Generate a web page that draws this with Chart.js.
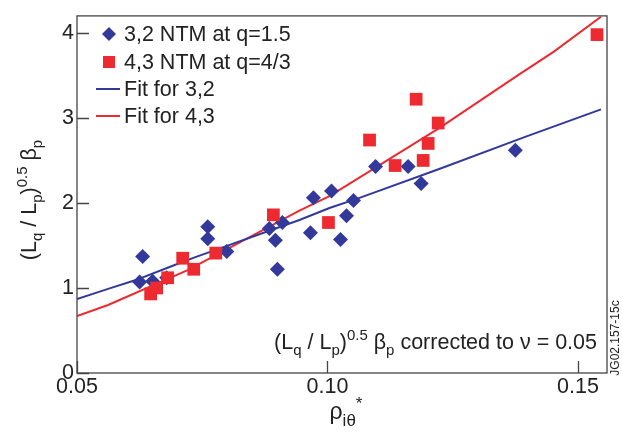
<!DOCTYPE html>
<html>
<head>
<meta charset="utf-8">
<script src="https://cdn.jsdelivr.net/npm/chart.js@4.4.0/dist/chart.umd.min.js"></script>
<style>
  html, body { margin: 0; padding: 0; background: #fff; }
  #wrap { width: 622px; height: 437px; }
</style>
</head>
<body>
<div id="wrap"><canvas id="chart" width="622" height="437"></canvas></div>
<script>
// 3,2 NTM points (rho*, corrected beta)
const ntm32X = [0.0625, 0.0631, 0.0651, 0.0679, 0.0761, 0.0761, 0.0799, 0.0884, 0.0896, 0.0900, 0.0910,
                0.0966, 0.0972, 0.1008, 0.1026, 0.1038, 0.1052, 0.1096, 0.1161, 0.1187, 0.1375];
const ntm32Y = [1.07, 1.37, 1.08, 1.12, 1.72, 1.58, 1.43, 1.70, 1.56, 1.22, 1.77,
                1.65, 2.06, 2.14, 1.57, 1.85, 2.03, 2.43, 2.43, 2.23, 2.62];

// 4,3 NTM points
const ntm43X = [0.0647, 0.0659, 0.0681, 0.0711, 0.0733, 0.0777, 0.0892, 0.1002,
                0.1084, 0.1135, 0.1191, 0.1201, 0.1177, 0.1221, 0.1538];
const ntm43Y = [0.93, 1.00, 1.12, 1.35, 1.22, 1.41, 1.86, 1.77,
                2.74, 2.44, 2.50, 2.70, 3.22, 2.94, 3.98];

// fit curves
const fit32X = [0.05, 0.0562, 0.0616, 0.0695, 0.0735, 0.0944, 0.1004, 0.1064, 0.1223, 0.1396, 0.1546];
const fit32Y = [0.87, 0.99, 1.09, 1.27, 1.36, 1.80, 1.94, 2.06, 2.40, 2.78, 3.10];
const fit43X = [0.05, 0.0562, 0.0721, 0.0944, 0.1004, 0.1223, 0.1382, 0.1452, 0.1546];
const fit43Y = [0.67, 0.80, 1.21, 1.91, 2.08, 2.88, 3.51, 3.78, 4.19];

const xTicks = [0.05, 0.10, 0.15];
const yTicks = [0, 1, 2, 3, 4];

const labels = ['3,2 NTM at q=1.5', '4,3 NTM at q=4/3', 'Fit for 3,2', 'Fit for 4,3'];

const BLUE = '#32399a';
const RED = '#ec2a30';
const FONT = '"Liberation Sans", Arial, sans-serif';
const FS = 21.5;

function pts(xs, ys) {
    return xs.map((x, i) => ({ x: x, y: ys[i] }));
}

// draw text made of normal / sub / sup pieces
function richWidth(ctx, parts, size) {
    let w = 0;
    parts.forEach(p => {
        ctx.font = (p[1] === 'n' ? size : Math.round(size * 0.72)) + 'px ' + FONT;
        w += ctx.measureText(p[0]).width;
    });
    return w;
}
function drawRich(ctx, parts, x, y, size) {
    let cx = x;
    parts.forEach(p => {
        let dy = 0;
        if (p[1] === 'n') {
            ctx.font = size + 'px ' + FONT;
        } else {
            ctx.font = Math.round(size * 0.72) + 'px ' + FONT;
            dy = p[1] === 'sub' ? size * 0.3 : -size * 0.42;
        }
        ctx.fillText(p[0], cx, y + dy);
        cx += ctx.measureText(p[0]).width;
    });
}

const yTitle = [['(L', 'n'], ['q', 'sub'], [' / L', 'n'], ['p', 'sub'], [')', 'n'], ['0.5', 'sup'], [' \u03b2', 'n'], ['p', 'sub']];
const xTitle = [['\u03c1', 'n'], ['i\u03b8', 'sub'], ['*', 'sup']];
const note = [['(L', 'n'], ['q', 'sub'], [' / L', 'n'], ['p', 'sub'], [')', 'n'], ['0.5', 'sup'], [' \u03b2', 'n'], ['p', 'sub'], [' corrected to \u03bd = 0.05', 'n']];

const decorations = {
    id: 'decorations',
    afterDraw(chart) {
        const ctx = chart.ctx;
        const a = chart.chartArea;
        const xs = chart.scales.x, ys = chart.scales.y;
        ctx.save();
        // frame
        ctx.strokeStyle = '#444';
        ctx.lineWidth = 1.3;
        ctx.strokeRect(a.left, a.top, a.right - a.left, a.bottom - a.top);
        // inward ticks
        ctx.beginPath();
        yTicks.forEach(v => {
            const py = Math.round(ys.getPixelForValue(v)) + 0.5;
            ctx.moveTo(a.left, py); ctx.lineTo(a.left + 12, py);
        });
        xTicks.forEach(v => {
            const px = Math.round(xs.getPixelForValue(v)) + 0.5;
            ctx.moveTo(px, a.bottom); ctx.lineTo(px, a.bottom - 12);
        });
        ctx.stroke();

        ctx.fillStyle = '#222';
        ctx.textBaseline = 'alphabetic';
        // y title
        ctx.save();
        ctx.translate(36, 200);
        ctx.rotate(-Math.PI / 2);
        const wy = richWidth(ctx, yTitle, FS);
        drawRich(ctx, yTitle, -wy / 2, 0, FS);
        ctx.restore();
        // x title
        const wx = richWidth(ctx, xTitle, 23);
        drawRich(ctx, xTitle, (a.left + a.right) / 2 - wx / 2 + 4, 419, 23);
        // note
        const wn = richWidth(ctx, note, FS);
        drawRich(ctx, note, 597 - wn, 349, FS);
        // id label
        ctx.save();
        ctx.translate(619, 338);
        ctx.rotate(-Math.PI / 2);
        ctx.font = '12px ' + FONT;
        ctx.textAlign = 'center';
        ctx.fillText('JG02.157-15c', 0, 0);
        ctx.restore();

        // legend
        const lx = 109, tx = 124, rowY = [34, 62, 89, 116];
        ctx.font = FS + 'px ' + FONT;
        ctx.textBaseline = 'middle';
        labels.forEach((t, i) => {
            const y = rowY[i];
            if (i === 0) {
                ctx.fillStyle = BLUE;
                ctx.beginPath();
                ctx.moveTo(lx, y - 7); ctx.lineTo(lx + 7, y); ctx.lineTo(lx, y + 7); ctx.lineTo(lx - 7, y);
                ctx.closePath(); ctx.fill();
            } else if (i === 1) {
                ctx.fillStyle = RED;
                ctx.fillRect(lx - 6, y - 6, 12, 12);
            } else {
                ctx.strokeStyle = i === 2 ? BLUE : RED;
                ctx.lineWidth = 2;
                ctx.beginPath();
                ctx.moveTo(96, y); ctx.lineTo(120, y);
                ctx.stroke();
            }
            ctx.fillStyle = '#222';
            ctx.fillText(t, tx, y + 1);
        });
        ctx.restore();
    }
};

new Chart(document.getElementById('chart'), {
    type: 'scatter',
    data: {
        datasets: [
            { label: labels[0], data: pts(ntm32X, ntm32Y), pointStyle: 'rectRot', pointRadius: 7.5,
              backgroundColor: BLUE, borderColor: BLUE, borderWidth: 0, order: 1 },
            { label: labels[1], data: pts(ntm43X, ntm43Y), pointStyle: 'rect', pointRadius: 9,
              backgroundColor: RED, borderColor: RED, borderWidth: 0, order: 0 },
            { label: labels[2], type: 'line', data: pts(fit32X, fit32Y), showLine: true, pointRadius: 0,
              borderColor: BLUE, borderWidth: 2, fill: false, order: 2 },
            { label: labels[3], type: 'line', data: pts(fit43X, fit43Y), showLine: true, pointRadius: 0,
              borderColor: RED, borderWidth: 2, fill: false, order: 3 }
        ]
    },
    options: {
        responsive: false,
        animation: false,
        layout: { padding: { top: 9, right: 15, left: 0, bottom: 0 } },
        plugins: { legend: { display: false }, tooltip: { enabled: false } },
        scales: {
            x: {
                type: 'linear', min: 0.05, max: 0.1558,
                afterBuildTicks: s => { s.ticks = xTicks.map(v => ({ value: v })); },
                afterFit: s => { s.height = 64; },
                grid: { display: false, tickLength: 0 }, border: { display: false },
                ticks: { color: '#222', font: { family: FONT, size: FS }, padding: 1,
                         callback: v => v.toFixed(2) }
            },
            y: {
                min: 0, max: 4.2,
                afterBuildTicks: s => { s.ticks = yTicks.map(v => ({ value: v })); },
                afterFit: s => { s.width = 77; },
                grid: { display: false, tickLength: 0 }, border: { display: false },
                ticks: { color: '#222', font: { family: FONT, size: FS }, padding: 3 }
            }
        }
    },
    plugins: [decorations]
});
</script>
</body>
</html>
